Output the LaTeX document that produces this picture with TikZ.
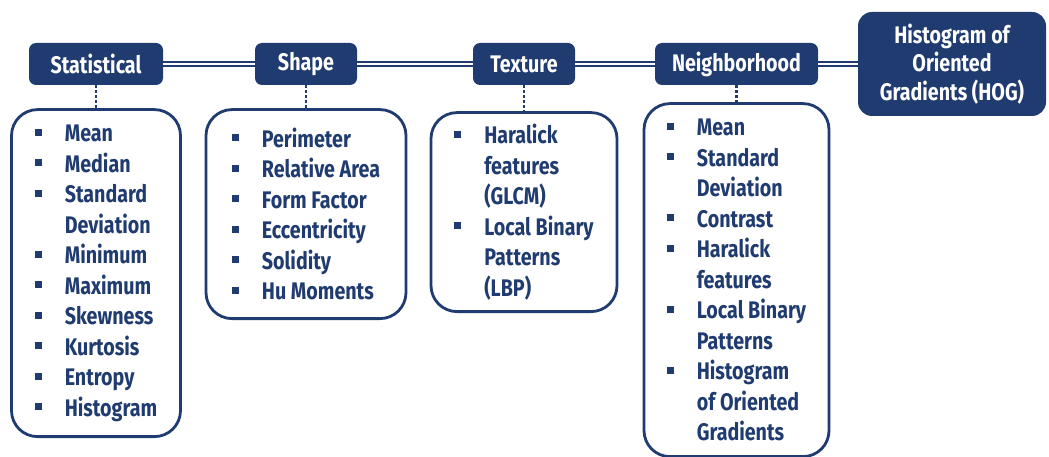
\documentclass[tikz,border=0pt]{standalone}
\usepackage{fontspec}
\usepackage{xcolor}
\usetikzlibrary{positioning}
\newfontfamily\cond{Fira Sans}[FakeStretch=0.82]
\definecolor{nv}{HTML}{1F3B6F}
% square bullet and hanging indent for the lists
\newcommand{\Bul}{\makebox[30pt][l]{\rule[6pt]{7pt}{7pt}}}
\newcommand{\Ind}{\hspace*{30pt}}

\tikzset{
  hdr/.style={fill=nv, text=white, rounded corners=7pt, minimum height=42pt,
    inner sep=0pt, font=\cond\bfseries\fontsize{24}{28.5}\selectfont},
  lst/.style={draw=nv, line width=2.8pt, rounded corners=26pt, text=nv,
    align=left, inner sep=0pt, font=\cond\bfseries\fontsize{24}{30.5}\selectfont},
  dbl/.style={draw=nv, line width=2pt, double=white, double distance=2.6pt},
  dots/.style={draw=nv, line width=2.6pt, dash pattern=on 2.4pt off 2.6pt}
}

\begin{document}
\begin{tikzpicture}[x=1pt, y=1pt]
  \useasboundingbox (0,0) rectangle (1049,-457);

  % category headers
  \node[hdr, minimum width=134pt] (stat) at (96,-64) {Statistical};
  \node[hdr, minimum width=102pt] (shape) at (306,-64) {Shape};
  \node[hdr, minimum width=102pt] (tex) at (524,-64) {Texture};
  \node[hdr, minimum width=163pt] (nbh) at (736.5,-64) {Neighborhood};
  \node[hdr, minimum width=188pt, minimum height=104pt, rounded corners=14pt,
    align=center] (hog) at (952,-64) {Histogram of\\Oriented\\Gradients (HOG)};

  % feature lists
  \node[lst, minimum width=169pt, minimum height=327pt, below=23pt of stat] (statl) {%
    \Bul Mean\\ \Bul Median\\ \Bul Standard\\ \Ind Deviation\\ \Bul Minimum\\
    \Bul Maximum\\ \Bul Skewness\\ \Bul Kurtosis\\ \Bul Entropy\\ \Bul Histogram};
  \node[lst, minimum width=200pt, minimum height=209pt, below=23pt of shape] (shapel) {%
    \Bul Perimeter\\ \Bul Relative Area\\ \Bul Form Factor\\ \Bul Eccentricity\\
    \Bul Solidity\\ \Bul Hu Moments};
  \node[lst, minimum width=186pt, minimum height=199pt, below=26pt of tex] (texl) {%
    \Bul Haralick\\ \Ind features\\ \Ind (GLCM)\\ \Bul Local Binary\\
    \Ind Patterns\\ \Ind (LBP)};
  \node[lst, minimum width=185pt, minimum height=353pt, below=17pt of nbh] (nbhl) {%
    \Bul Mean\\ \Bul Standard\\ \Ind Deviation\\ \Bul Contrast\\ \Bul Haralick\\
    \Ind features\\ \Bul Local Binary\\ \Ind Patterns\\ \Bul Histogram\\
    \Ind of Oriented\\ \Ind Gradients};

  % links
  \draw[dbl] (stat) -- (shape);
  \draw[dbl] (shape) -- (tex);
  \draw[dbl] (tex) -- (nbh);
  \draw[dbl] (nbh) -- (hog);
  \draw[dots] (stat) -- (statl);
  \draw[dots] (shape) -- (shapel);
  \draw[dots] (tex) -- (texl);
  \draw[dots] (nbh) -- (nbhl);
\end{tikzpicture}
\end{document}
